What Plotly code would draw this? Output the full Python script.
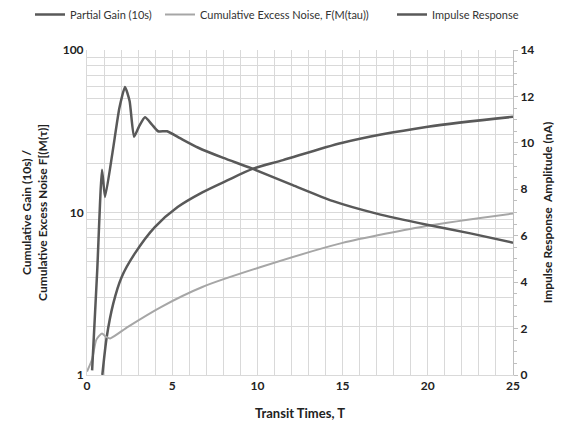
import plotly.graph_objects as go

# Partial gain (10s) vs transit time
gain_t = [0.9, 1.16, 1.54, 2.03, 2.8, 3.98, 5.32, 6.77, 8.2, 9.75, 11.5, 15.0, 20.0, 25.0]
gain_v = [1.0, 1.72, 2.75, 4.0, 5.58, 8.13, 10.8, 13.3, 15.7, 18.6, 21.0, 26.9, 33.7, 38.8]

# Cumulative excess noise F(M(tau))
noise_t = [0.0, 0.3, 0.55, 0.88, 1.1, 1.36, 2.4, 4.34, 6.77, 10.15, 15.0, 20.0, 25.0]
noise_v = [1.05, 1.25, 1.65, 1.8, 1.72, 1.68, 1.98, 2.62, 3.48, 4.6, 6.5, 8.3, 9.86]

# Impulse response amplitude (nA)
imp_t = [0.3, 0.6, 0.88, 1.06, 1.5, 1.9, 2.23, 2.5, 2.76, 3.05, 3.4, 3.8, 4.17, 4.7,
         5.46, 6.5, 8.0, 9.6, 12.0, 14.4, 17.0, 19.95, 22.5, 25.0]
imp_v = [0.2, 4.5, 8.84, 7.67, 9.6, 11.5, 12.41, 11.8, 10.26, 10.7, 11.1, 10.8, 10.5, 10.5,
         10.2, 9.8, 9.35, 8.92, 8.2, 7.5, 6.95, 6.47, 6.1, 5.7]

x_ticks = [0, 5, 10, 15, 20, 25]
left_ticks = [1, 10, 100]
right_ticks = [0, 2, 4, 6, 8, 10, 12, 14]

DARK = "#595959"
LIGHT = "#a6a6a6"
GRID = "#d9d9d9"
FONT = "Lato"
W, H = 569, 435

# log grid: every integer step in each decade, labels only on the decades
log_grid = [m * 10 ** d for d in range(2) for m in range(1, 10)] + [100]
log_text = [str(v) if v in left_ticks else "" for v in log_grid]

fig = go.Figure()
fig.add_trace(go.Scatter(x=gain_t, y=gain_v, name="Partial Gain (10s)", mode="lines",
                         legend="legend",
                         line=dict(color=DARK, width=2.5, shape="spline", smoothing=0.8)))
fig.add_trace(go.Scatter(x=noise_t, y=noise_v, name="Cumulative Excess Noise, F(M(tau))",
                         mode="lines", legend="legend2",
                         line=dict(color=LIGHT, width=2, shape="spline", smoothing=0.6)))
fig.add_trace(go.Scatter(x=imp_t, y=imp_v, name="Impulse Response", mode="lines", yaxis="y2",
                         legend="legend3",
                         line=dict(color=DARK, width=2.5, shape="spline", smoothing=0.5)))


def legend_box(x_px):
    # one single-entry legend per series, laid out in a row along the top
    return dict(orientation="h", x=x_px / W, xref="container", xanchor="left",
                y=1.0, yref="container", yanchor="top",
                font=dict(size=11, color="#333"), itemwidth=30,
                bgcolor="rgba(0,0,0,0)")


fig.update_layout(
    width=W, height=H,
    margin=dict(l=87, r=56, t=50, b=60),
    paper_bgcolor="white", plot_bgcolor="white",
    font=dict(family=FONT, color="#222", size=12),
    showlegend=True,
    legend=legend_box(30),
    legend2=legend_box(160),
    legend3=legend_box(392),
    xaxis=dict(range=[0, 25], tickvals=list(range(26)),
               ticktext=[str(v) if v in x_ticks else "" for v in range(26)],
               showgrid=True, gridcolor=GRID, gridwidth=1,
               showline=True, linecolor=GRID, ticks="",
               tickfont=dict(size=12, family=FONT, weight="bold"),
               title=dict(text="<b>Transit Times, T</b>", font=dict(size=13), standoff=16),
               zeroline=False),
    yaxis=dict(type="log", range=[0, 2], tickvals=log_grid, ticktext=log_text,
               showgrid=True, gridcolor=GRID, gridwidth=1,
               showline=True, linecolor=GRID, ticks="",
               tickfont=dict(size=12, family=FONT, weight="bold"),
               title=dict(text="<b>Cumulative Gain (10s) /<br>Cumulative Excess Noise F[(M(τ)]</b>",
                          font=dict(size=12), standoff=12),
               zeroline=False),
    yaxis2=dict(overlaying="y", side="right", range=[0, 14], tickvals=right_ticks,
                showgrid=False, showline=True, linecolor="#bfbfbf",
                ticks="outside", ticklen=4, tickcolor="#bfbfbf",
                minor=dict(dtick=0.5, ticks="outside", ticklen=3, tickcolor="#bfbfbf"),
                tickfont=dict(size=12, family=FONT, weight="bold"),
                title=dict(text="<b>Impulse Response  Amplitude (nA)</b>",
                           font=dict(size=12), standoff=10),
                zeroline=False),
)

fig.write_html("out.html")
